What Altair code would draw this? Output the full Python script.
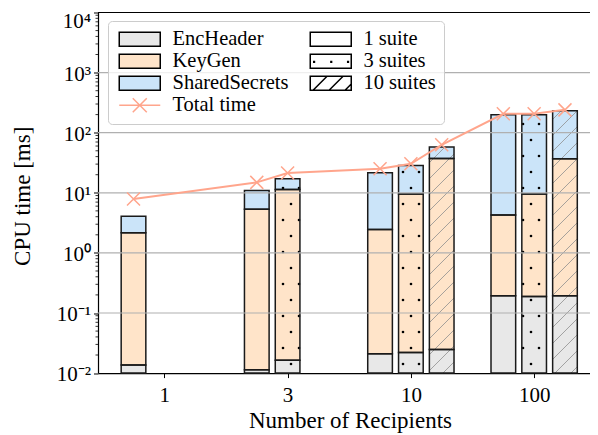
import math
import altair as alt
import pandas as pd

# ---------------- data ----------------
recipients = ["1", "3", "10", "100"]
suite_labels = ["1 suite", "3 suites", "10 suites"]
components = ["EncHeader", "KeyGen", "SharedSecrets"]

bar_recipients = ["1", "3", "3", "10", "10", "10", "100", "100", "100"]
bar_suites = ["1 suite", "1 suite", "3 suites", "1 suite", "3 suites", "10 suites",
              "1 suite", "3 suites", "10 suites"]
enc_header = [0.0136, 0.0114, 0.0163, 0.021, 0.022, 0.0248, 0.193, 0.188, 0.193]
key_gen = [2.14, 5.29, 11.38, 2.42, 9.53, 37.3, 4.09, 9.36, 36.6]
shared_secrets = [1.90, 5.66, 5.7, 19.2, 18.8, 20.4, 194.0, 188.5, 194.0]
total_time = [7.9, 14.9, 21.3, 25.2, 30.4, 63.0, 206.0, 206.0, 240.0]

y_ticks = [1e-2, 1e-1, 1e0, 1e1, 1e2, 1e3, 1e4]
y_tick_sup = ["⁻²", "⁻¹", "⁰", "¹", "²", "³", "⁴"]

# ---------------- style / layout ----------------
FONT = "Liberation Serif"
COLORS = {"EncHeader": "#e8e8e8", "KeyGen": "#ffe4c9", "SharedSecrets": "#cbe4f9"}
SALMON = "#ffa58c"
W, H = 492, 360.6
XMIN, XMAX = -0.538, 3.453
YMIN, YMAX = 1e-2, 1e4
OX, OY = 98.0, 12.5          # page position of the plot origin
SUITE_OFFSET = {"1 suite": -0.25, "3 suites": 0.0, "10 suites": 0.25}
BAR_W = 0.2


def xpx(v):
    return (v - XMIN) / (XMAX - XMIN) * W


def xinv(p):
    return XMIN + p / W * (XMAX - XMIN)


LMIN, LMAX = math.log10(YMIN), math.log10(YMAX)


def ypx(v):
    return H * (LMAX - math.log10(v)) / (LMAX - LMIN)


def yinv(p):
    return 10 ** (LMAX - p / H * (LMAX - LMIN))


# ---------------- tables ----------------
rows, bars = [], []
for i in range(len(bar_recipients)):
    pos = recipients.index(bar_recipients[i]) + SUITE_OFFSET[bar_suites[i]]
    lo = YMIN
    top = YMIN
    for comp, val in zip(components, [enc_header[i], key_gen[i], shared_secrets[i]]):
        hi = (lo if lo > YMIN else 0) + val
        rows.append({"x0": pos - BAR_W / 2, "x1": pos + BAR_W / 2, "lo": lo, "hi": hi,
                     "component": comp, "suite": bar_suites[i]})
        lo = hi
        top = hi
    bars.append({"pos": pos, "top": top, "suite": bar_suites[i], "total": total_time[i]})
bar_df = pd.DataFrame(rows)
line_df = pd.DataFrame({"pos": [b["pos"] for b in bars], "total": total_time})

# hatch: dots for "3 suites", diagonal lines for "10 suites" (global pixel pattern)
dots, hatch = [], []
for b in bars:
    xl, xr = xpx(b["pos"] - BAR_W / 2), xpx(b["pos"] + BAR_W / 2)
    yt, yb = ypx(b["top"]), H
    if b["suite"] == "3 suites":
        for r in range(-30, 30):
            ya = 204 + 16 * r - OY
            if not (yt + 0.5 <= ya <= yb - 0.5):
                continue
            shift = 8 if r % 2 else 0
            for c in range(-40, 40):
                xa = 291 + 16 * c + shift - OX
                if xl + 0.5 <= xa <= xr - 0.5:
                    dots.append({"x": xinv(xa), "y": yinv(ya)})
    if b["suite"] == "10 suites":
        for k in range(0, 90):
            cc = 16 * k - OX - OY
            lo_, hi_ = max(xl, cc - yb), min(xr, cc - yt)
            if hi_ - lo_ > 0.3:
                hatch.append({"x": xinv(lo_), "y": yinv(cc - lo_),
                              "x2": xinv(hi_), "y2": yinv(cc - hi_)})
dots_df = pd.DataFrame(dots)
hatch_df = pd.DataFrame(hatch)

grid_df = pd.DataFrame({"v": y_ticks[1:-1]})
spine_df = pd.DataFrame({"v": [YMAX]})
minor_df = pd.DataFrame({"v": [m * 10 ** e for e in range(-2, 4) for m in range(2, 10)]})

# ---------------- scales / axes / legend ----------------
x_scale = alt.Scale(domain=[XMIN, XMAX], nice=False, zero=False)
y_scale = alt.Scale(type="log", domain=[YMIN, YMAX], nice=False)

x_label_expr = "[" + ",".join("'%s'" % r for r in recipients) + "][datum.value]"
y_label_expr = "'10' + [" + ",".join("'%s'" % s for s in y_tick_sup) + "][round(log(datum.value)/LN10) + 2]"

x_axis = alt.Axis(values=[0, 1, 2, 3], labelExpr=x_label_expr, grid=False, tickSize=4.5,
                  tickWidth=1, tickColor="black", domainColor="black", domainWidth=1.2,
                  labelFont=FONT, labelFontSize=21, labelColor="black",
                  labelBaseline="alphabetic", labelPadding=23.5, labelFlush=False,
                  labelOverlap=False, titleFont=FONT, titleFontSize=23,
                  titleFontWeight="normal", titleColor="black", titleX=252, titleY=54.7,
                  titleBaseline="alphabetic", titleAlign="center")
y_axis = alt.Axis(values=y_ticks, labelExpr=y_label_expr, grid=False, tickSize=4.5,
                  tickWidth=1, tickColor="black", domainColor="black", domainWidth=1.2,
                  labelFont=FONT, labelFontSize=21, labelColor="black", labelPadding=3,
                  labelBaseline="middle",
                  labelOffset=alt.ExprRef("datum.value >= %g ? 9 : 1.5" % YMAX),
                  labelFlush=False, labelOverlap=False,
                  titleFont=FONT, titleFontSize=23, titleFontWeight="normal",
                  titleColor="black", titleX=-76, titleY=H / 2 + 3, titleBaseline="middle",
                  titleAlign="center")
X_TITLE = "Number of Recipients"
Y_TITLE = "CPU time [ms]"


def X(field):
    return alt.X(field, scale=x_scale, axis=x_axis, title=X_TITLE)


def Y(field):
    return alt.Y(field, scale=y_scale, axis=y_axis, title=Y_TITLE)


legend_domain = ["EncHeader", "KeyGen", "SharedSecrets", "Total time",
                 "1 suite", "3 suites", "10 suites"]
legend_range = [COLORS["EncHeader"], COLORS["KeyGen"], COLORS["SharedSecrets"], "transparent",
                "white", "white", "white"]

RECT = "M-1,-1H4.857V1H-1Z"
DOTS = RECT + " M-0.5,0.05h0.1v0.1h-0.1Z M1.95,0.05h0.1v0.1h-0.1Z M4.35,0.05h0.1v0.1h-0.1Z"
LINES = RECT + " M-0.6,1L1.4,-1 M1.69,1L3.69,-1 M3.97,1L4.857,0.113"
TOTAL = "M-1,0H4.857 M0.93,-1L2.93,1 M0.93,1L2.93,-1"
shape_expr = ("datum.value === 'Total time' ? '%s' : datum.value === '3 suites' ? '%s' : "
              "datum.value === '10 suites' ? '%s' : '%s'") % (TOTAL, DOTS, LINES, RECT)
stroke_expr = "datum.value === 'Total time' ? '%s' : 'black'" % SALMON

legend = alt.Legend(title=None, orient="none", legendX=10, legendY=8.5, columns=2,
                    columnPadding=18, rowPadding=1, symbolSize=196, symbolStrokeWidth=1.5,
                    symbolStrokeColor=alt.ExprRef(stroke_expr),
                    symbolType=alt.ExprRef(shape_expr),
                    labelFont=FONT, labelFontSize=20.5,
                    labelColor="black", labelOffset=36, labelLimit=300, padding=8,
                    fillColor="rgba(255,255,255,0.8)", strokeColor="#cccccc",
                    cornerRadius=4, zindex=2, symbolOpacity=1)

# ---------------- layers ----------------
bars_fill = alt.Chart(bar_df).mark_bar(strokeWidth=0).encode(
    x=X("x0:Q"), x2="x1:Q", y=Y("hi:Q"), y2="lo:Q",
    fill=alt.Fill("component:N", scale=alt.Scale(domain=legend_domain, range=legend_range),
                  legend=legend),
)
dots_layer = alt.Chart(dots_df).mark_point(filled=True, shape="circle", size=7, color="black",
                                           opacity=1).encode(x=X("x:Q"), y=Y("y:Q"))
hatch_layer = alt.Chart(hatch_df).mark_rule(color="#8f8f8f", strokeWidth=0.8).encode(
    x=X("x:Q"), y=Y("y:Q"), x2="x2:Q", y2="y2:Q")
bars_stroke = alt.Chart(bar_df).mark_bar(fillOpacity=0, stroke="#1a1a1a", strokeWidth=1.5).encode(
    x=X("x0:Q"), x2="x1:Q", y=Y("hi:Q"), y2="lo:Q")
grid_layer = alt.Chart(grid_df).mark_rule(color="#b0b0b0", strokeWidth=1.2).encode(y=Y("v:Q"))
spine_layer = alt.Chart(spine_df).mark_rule(color="black", strokeWidth=1.2).encode(y=Y("v:Q"))
minor_layer = alt.Chart(minor_df).mark_rule(color="black", strokeWidth=0.8).encode(
    y=Y("v:Q"), x=alt.value(0), x2=alt.value(-2.5))
line_layer = alt.Chart(line_df).mark_line(color=SALMON, strokeWidth=2).encode(
    x=X("pos:Q"), y=Y("total:Q"))
marker_layer = alt.Chart(line_df).mark_point(shape="M-1,-1L1,1M-1,1L1,-1", size=169,
                                             filled=False, color=SALMON, strokeWidth=1.5,
                                             opacity=1).encode(x=X("pos:Q"), y=Y("total:Q"))

chart = alt.layer(bars_fill, dots_layer, hatch_layer, bars_stroke, grid_layer, spine_layer,
                  minor_layer, line_layer, marker_layer).properties(
    width=W, height=H,
    autosize=alt.AutoSizeParams(type="none"),
    padding={"left": 90, "top": 4.5, "right": 0, "bottom": 60},
    background="white",
).configure(font=FONT).configure_view(strokeWidth=0)

chart.save("out.html", embed_options={"renderer": "svg", "actions": False})
